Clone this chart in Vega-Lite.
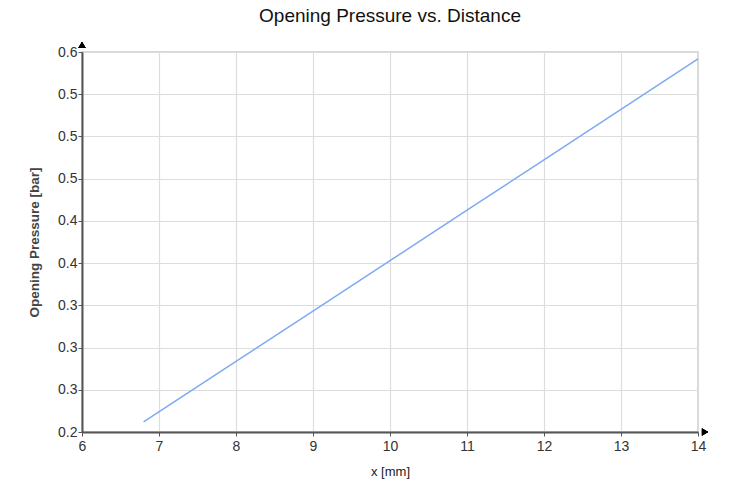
{
  "$schema": "https://vega.github.io/schema/vega-lite/v6.json",
  "autosize": "none",
  "width": 616,
  "height": 380,
  "padding": {"left": 82, "top": 52, "right": 33, "bottom": 54},
  "background": "white",
  "config": {
    "font": "Liberation Sans",
    "view": {"stroke": "#cccccc", "strokeWidth": 1.5}
  },
  "title": {
    "text": "Opening Pressure vs. Distance",
    "fontSize": 19,
    "fontWeight": "normal",
    "color": "#111",
    "offset": 16,
    "anchor": "middle"
  },
  "data": {
    "values": [
      {"x": 6.8, "p": 0.2295},
      {"x": 8, "p": 0.2868},
      {"x": 9, "p": 0.3346},
      {"x": 10, "p": 0.3823},
      {"x": 11, "p": 0.4301},
      {"x": 12, "p": 0.4779},
      {"x": 13, "p": 0.5256},
      {"x": 14, "p": 0.5734}
    ]
  },
  "layer": [
    {
      "mark": {"type": "line", "color": "#7eaaf2", "strokeWidth": 1.5},
      "encoding": {
        "x": {
          "field": "x", "type": "quantitative",
          "scale": {"domain": [6, 14], "nice": false, "zero": false},
          "axis": {
            "values": [6, 7, 8, 9, 10, 11, 12, 13, 14],
            "format": "d",
            "labelFlush": false,
            "title": "x [mm]",
            "titleFontSize": 13, "titleFontWeight": "normal", "titleColor": "#222", "titlePadding": 12,
            "labelFontSize": 14, "labelColor": "#333", "labelPadding": 3,
            "domainColor": "#555", "domainWidth": 2,
            "tickColor": "#555", "tickSize": 4,
            "gridColor": "#dddddd", "gridWidth": 1.2
          }
        },
        "y": {
          "field": "p", "type": "quantitative",
          "scale": {"domain": [0.22, 0.58], "nice": false, "zero": false},
          "axis": {
            "values": [0.22, 0.26, 0.30, 0.34, 0.38, 0.42, 0.46, 0.50, 0.54, 0.58],
            "format": ".1f",
            "labelFlush": false,
            "title": "Opening Pressure [bar]",
            "titleFontSize": 13.5, "titleFontWeight": "bold", "titleColor": "#444", "titlePadding": 16,
            "labelFontSize": 14, "labelColor": "#333", "labelPadding": 1,
            "domainColor": "#555", "domainWidth": 2,
            "tickColor": "#555", "tickSize": 4,
            "gridColor": "#dddddd", "gridWidth": 1.2
          }
        }
      }
    },
    {
      "mark": {"type": "point", "shape": "triangle-up", "filled": true, "color": "black", "size": 50, "yOffset": -7, "opacity": 1},
      "encoding": {
        "x": {"datum": 6, "type": "quantitative"},
        "y": {"datum": 0.58, "type": "quantitative"}
      }
    },
    {
      "mark": {"type": "point", "shape": "triangle-right", "filled": true, "color": "black", "size": 50, "xOffset": 7, "opacity": 1},
      "encoding": {
        "x": {"datum": 14, "type": "quantitative"},
        "y": {"datum": 0.22, "type": "quantitative"}
      }
    }
  ]
}
